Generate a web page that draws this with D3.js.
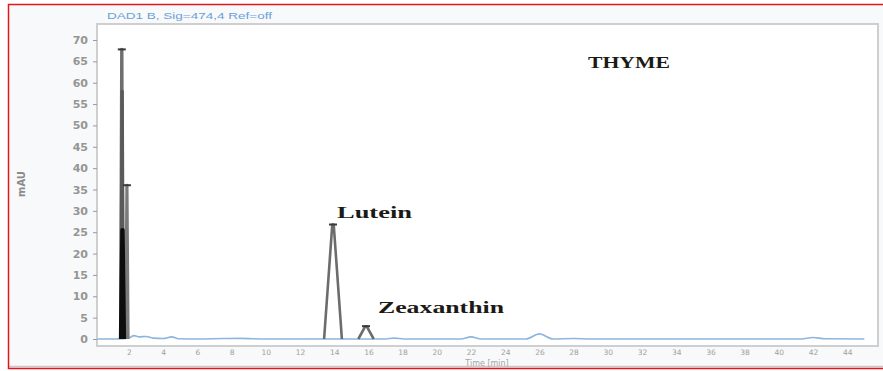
<!DOCTYPE html>
<html>
<head>
<meta charset="utf-8">
<script src="https://cdn.jsdelivr.net/npm/d3@7/dist/d3.min.js"></script>
<style>
  html, body { margin: 0; padding: 0; background: #ffffff; }
  svg { display: block; }
</style>
</head>
<body>
<svg id="chart" width="883" height="371"></svg>
<script>
// Chromatogram, DAD signal at 474 nm: thyme extract

// Tick values
const xTicks = [2, 4, 6, 8, 10, 12, 14, 16, 18, 20, 22, 24, 26, 28, 30, 32, 34, 36, 38, 40, 42, 44];
const yTicks = [0, 5, 10, 15, 20, 25, 30, 35, 40, 45, 50, 55, 60, 65, 70];

// Integrated peaks: retention time (min), apex height (mAU), half base width (min), stroke tone
const peakTimes      = [1.58, 1.60, 1.88, 1.62, 13.93, 15.86];
const peakHeights    = [67.8, 58.0, 36.0, 25.5, 26.8, 3.0];
const peakHalfWidths = [0.07, 0.07, 0.07, 0.09, 0.52, 0.45];
const peakTones      = ["#6f6f6f", "#5a5a5a", "#7a7a7a", "#0d0d0d", "#6c6c6c", "#6c6c6c"];
const peakStrokes    = [3.2, 3.2, 3.0, 4.2, 2.6, 2.6];
// Peaks that carry an apex marker
const markedPeaks = [0, 2, 4, 5];

// Baseline trace (min, mAU)
const traceTimes  = [0.15, 1.4, 2.0, 2.3, 2.6, 3.0, 3.4, 4.0, 4.5, 4.9, 6.0, 7.5, 8.5, 10.0, 17.0, 17.5, 18.1, 21.4, 22.0, 22.6, 25.2, 26.0, 26.8, 28.0, 29.0, 41.3, 42.0, 42.7, 45.0];
const traceValues = [0.0, 0.0, 0.3, 0.8, 0.5, 0.6, 0.2, 0.1, 0.5, 0.05, 0.0, 0.1, 0.15, 0.0, 0.0, 0.2, 0.0, 0.0, 0.5, 0.0, 0.0, 1.2, 0.0, 0.1, 0.0, 0.0, 0.35, 0.05, 0.0];

// Compound labels
const compoundNames = ["Lutein", "Zeaxanthin"];
const sampleName = "THYME";

const svg = d3.select("#chart");
const W = 883, H = 371;

// Page background and red frame
svg.append("rect").attr("x", 0).attr("y", 0).attr("width", W).attr("height", H).attr("fill", "#ffffff");
svg.append("rect").attr("x", 9).attr("y", 5).attr("width", 880).attr("height", 363)
  .attr("fill", "#f8f9fa").attr("stroke", "none");
svg.append("line").attr("x1", 9).attr("x2", 883).attr("y1", 366.5).attr("y2", 366.5)
  .attr("stroke", "#c9c9c9").attr("stroke-width", 1.5);
svg.append("rect").attr("x", 8.5).attr("y", 4.5).attr("width", 880).attr("height", 364)
  .attr("fill", "none").attr("stroke", "#e8141b").attr("stroke-width", 1.5);

// Plot area
const plot = { left: 97, top: 24, right: 878, bottom: 346 };
const x = d3.scaleLinear().domain([0.13, 45.8]).range([plot.left, plot.right]);
const y = d3.scaleLinear().domain([0, 70]).range([339, 40]);

svg.append("rect")
  .attr("x", plot.left).attr("y", plot.top)
  .attr("width", plot.right - plot.left).attr("height", plot.bottom - plot.top)
  .attr("fill", "#ffffff").attr("stroke", "#cfcfcf").attr("stroke-width", 2);

// Header
svg.append("text")
  .attr("x", 107).attr("y", 19)
  .attr("font-family", "Liberation Sans, Arial, sans-serif")
  .attr("font-size", 8.5).attr("fill", "#6a9fd8")
  .attr("textLength", 165).attr("lengthAdjust", "spacingAndGlyphs")
  .text("DAD1 B, Sig=474,4 Ref=off");

// Axes
const axisFont = "DejaVu Sans, sans-serif";
const yAxis = svg.append("g").attr("transform", `translate(${plot.left},0)`)
  .call(d3.axisLeft(y).tickValues(yTicks).tickSize(4).tickPadding(5));
yAxis.select(".domain").remove();
yAxis.selectAll("line").attr("stroke", "#9a9a9a");
yAxis.selectAll("text").attr("font-family", axisFont).attr("font-size", 11)
  .attr("font-weight", "bold").attr("fill", "#959595");

const xAxis = svg.append("g").attr("transform", `translate(0,${plot.bottom})`)
  .call(d3.axisBottom(x).tickValues(xTicks).tickSize(0).tickPadding(4));
xAxis.select(".domain").remove();
xAxis.selectAll("text").attr("font-family", axisFont).attr("font-size", 7.5)
  .attr("fill", "#a0a0a0");

svg.append("text")
  .attr("transform", "translate(25,184) rotate(-90)")
  .attr("text-anchor", "middle")
  .attr("font-family", axisFont).attr("font-size", 10).attr("font-weight", "bold")
  .attr("fill", "#8a8a8a").text("mAU");

svg.append("text")
  .attr("x", 487).attr("y", 366).attr("text-anchor", "middle")
  .attr("font-family", axisFont).attr("font-size", 8).attr("fill", "#a5a5a5")
  .text("Time [min]");

// Baseline trace
const trace = d3.zip(traceTimes, traceValues);
svg.append("path")
  .datum(trace)
  .attr("fill", "none").attr("stroke", "#8cb6de").attr("stroke-width", 1.6)
  .attr("d", d3.line().x(d => x(d[0])).y(d => y(d[1])).curve(d3.curveMonotoneX));

// Peaks drawn as triangular outlines from the baseline to the apex
const peakLine = d3.line().x(d => x(d[0])).y(d => y(d[1]));
peakTimes.forEach((t, i) => {
  const hw = peakHalfWidths[i], h = peakHeights[i];
  const pts = [[t - hw, 0], [t - hw * 0.08, h], [t + hw * 0.08, h], [t + hw, 0]];
  svg.append("path")
    .datum(pts)
    .attr("fill", "none")
    .attr("stroke", peakTones[i])
    .attr("stroke-width", peakStrokes[i])
    .attr("stroke-linejoin", "round")
    .attr("d", peakLine);
});

// Apex markers
markedPeaks.forEach(i => {
  const cx = x(peakTimes[i]), cy = y(peakHeights[i]);
  svg.append("line")
    .attr("x1", cx - 4).attr("x2", cx + 4)
    .attr("y1", cy).attr("y2", cy)
    .attr("stroke", "#3a3a3a").attr("stroke-width", 2);
});

// Labels
const labelFont = "Liberation Serif, Times New Roman, serif";
svg.append("text")
  .attr("x", 337).attr("y", 218)
  .attr("font-family", labelFont).attr("font-size", 17).attr("font-weight", "bold")
  .attr("fill", "#1c1a16")
  .attr("textLength", 75).attr("lengthAdjust", "spacingAndGlyphs")
  .text(compoundNames[0]);
svg.append("text")
  .attr("x", 378).attr("y", 313)
  .attr("font-family", labelFont).attr("font-size", 17).attr("font-weight", "bold")
  .attr("fill", "#1c1a16")
  .attr("textLength", 126).attr("lengthAdjust", "spacingAndGlyphs")
  .text(compoundNames[1]);
svg.append("text")
  .attr("x", 588).attr("y", 68)
  .attr("font-family", labelFont).attr("font-size", 17).attr("font-weight", "bold")
  .attr("fill", "#1c1a16")
  .attr("textLength", 82).attr("lengthAdjust", "spacingAndGlyphs")
  .text(sampleName);
</script>
</body>
</html>
